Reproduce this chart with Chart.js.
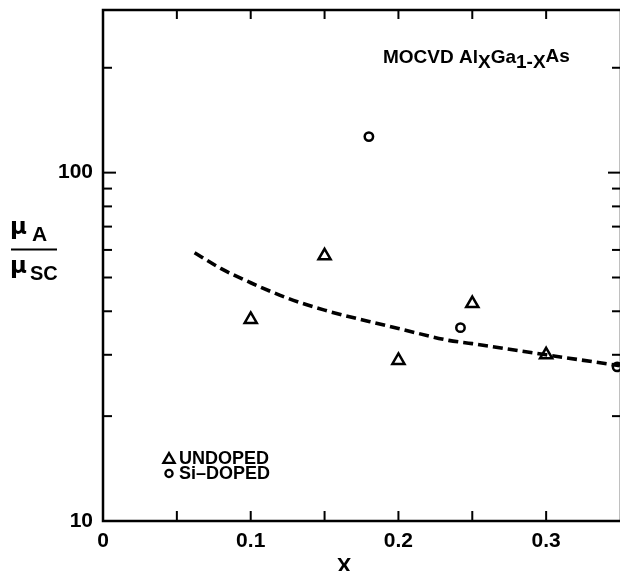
<!DOCTYPE html>
<html>
<head>
<meta charset="utf-8">
<script src="https://cdn.jsdelivr.net/npm/chart.js@4.4.1/dist/chart.umd.min.js"></script>
<style>
  html, body { margin: 0; padding: 0; background: #fff; }
  #wrap { width: 620px; height: 571px; }
</style>
</head>
<body>
<div id="wrap"><canvas id="mobilityChart" width="620" height="571"></canvas></div>
<script>
// Mobility ratio muA/muSC against Al fraction x, MOCVD AlxGa1-xAs
const undopedX = [0.10, 0.15, 0.20, 0.25, 0.30];
const undopedRatio = [37.9, 57.7, 28.9, 42.1, 30.0];
const siDopedX = [0.18, 0.242, 0.348];
const siDopedRatio = [126.9, 35.9, 27.7];
const fitX = [0.062, 0.08, 0.10, 0.125, 0.15, 0.18, 0.20, 0.234, 0.25, 0.30, 0.35];
const fitRatio = [58.9, 53.0, 48.3, 43.6, 40.3, 37.4, 35.7, 33.0, 32.3, 30.0, 27.9];
const xTickLabels = [0, 0.1, 0.2, 0.3];
const xTickMarks = [0.05, 0.1, 0.15, 0.2, 0.25, 0.3];
const yTickLabels = [10, 100];
const yTickMarks = [20, 30, 40, 50, 60, 70, 80, 90, 100, 200];

const FONT = "'Liberation Sans', Arial, sans-serif";

const toPoints = (xs, ys) => xs.map((x, i) => ({ x: x, y: ys[i] }));

function line(ctx, x1, y1, x2, y2) {
    ctx.beginPath();
    ctx.moveTo(x1, y1);
    ctx.lineTo(x2, y2);
    ctx.stroke();
}

// keep the label half-widths from shrinking the plot area
function noEdgePadding(scale) {
    scale.paddingTop = 0;
    scale.paddingBottom = 0;
    scale.paddingLeft = 0;
    scale.paddingRight = 0;
}

// Frame with inward ticks on all four sides
const frameTicks = {
    id: 'frameTicks',
    afterDraw(chart) {
        const { ctx, chartArea: a, scales: { x, y } } = chart;
        ctx.save();
        ctx.strokeStyle = '#000';
        ctx.lineCap = 'butt';
        ctx.lineWidth = 2.5;
        ctx.strokeRect(a.left, a.top, a.right - a.left + 1, a.bottom - a.top);

        ctx.lineWidth = 2;
        xTickMarks.forEach((v) => {
            const px = x.getPixelForValue(v);
            line(ctx, px, a.bottom, px, a.bottom - 10);
            line(ctx, px, a.top, px, a.top + 9);
        });
        yTickMarks.forEach((v) => {
            const py = y.getPixelForValue(v);
            const len = v === 100 ? 13 : 9;
            line(ctx, a.left, py, a.left + len, py);
            line(ctx, a.right + 1, py, a.right + 1 - len, py);
        });
        ctx.restore();
    }
};

// Axis titles, composition label and the key
const annotations = {
    id: 'annotations',
    afterDraw(chart) {
        const { ctx } = chart;
        ctx.save();
        ctx.fillStyle = '#000';
        ctx.strokeStyle = '#000';
        ctx.textBaseline = 'alphabetic';
        ctx.textAlign = 'left';

        // MOCVD AlxGa1-xAs
        const parts = [
            { t: 'MOCVD Al', dy: 0 },
            { t: 'X', dy: 5 },
            { t: 'Ga', dy: 0 },
            { t: '1-', dy: 5 },
            { t: 'X', dy: 5 },
            { t: 'As', dy: -1 }
        ];
        ctx.font = 'bold 19px ' + FONT;
        let tx = 383;
        parts.forEach((p) => {
            ctx.fillText(p.t, tx, 63 + p.dy);
            tx += ctx.measureText(p.t).width;
        });

        // muA / muSC
        ctx.font = "bold 23px 'DejaVu Sans', sans-serif";
        ctx.fillText('\u03bc', 10, 234);
        ctx.fillText('\u03bc', 10, 273);
        ctx.font = 'bold 21px ' + FONT;
        ctx.fillText('A', 32, 241);
        ctx.font = 'bold 20px ' + FONT;
        ctx.fillText('SC', 30, 280);
        ctx.lineWidth = 2;
        line(ctx, 11, 249.5, 57, 249.5);

        // x axis title
        ctx.font = 'bold 22px ' + FONT;
        ctx.textAlign = 'center';
        ctx.fillText('X', 344, 573);

        // key, using each dataset's own point style
        ctx.textAlign = 'left';
        ctx.textBaseline = 'middle';
        ctx.font = 'bold 18px ' + FONT;
        const keyRows = [
            { ds: 1, y: 458, r: 6.5 },
            { ds: 2, y: 473.5, r: 3.6 }
        ];
        keyRows.forEach((row) => {
            const ds = chart.data.datasets[row.ds];
            ctx.lineWidth = 2.3;
            ctx.fillStyle = 'rgba(0,0,0,0)';
            Chart.helpers.drawPoint(ctx, {
                pointStyle: ds.pointStyle,
                radius: row.r,
                rotation: 0,
                borderWidth: 2.3
            }, 169, row.y + (ds.pointStyle === 'triangle' ? 1.6 : 0));
            ctx.fillStyle = '#000';
            ctx.fillText(ds.label, 179, row.y + 1);
        });
        ctx.restore();
    }
};

new Chart(document.getElementById('mobilityChart'), {
    type: 'scatter',
    data: {
        datasets: [
            {
                label: 'trend',
                type: 'line',
                data: toPoints(fitX, fitRatio),
                borderColor: '#000',
                borderWidth: 3.6,
                borderDash: [10, 5],
                pointRadius: 0,
                cubicInterpolationMode: 'monotone',
                fill: false
            },
            {
                label: 'UNDOPED',
                data: toPoints(undopedX, undopedRatio),
                pointStyle: 'triangle',
                pointRadius: 7,
                borderWidth: 2.5,
                borderColor: '#000',
                backgroundColor: 'rgba(0,0,0,0)'
            },
            {
                label: 'Si\u2013DOPED',
                data: toPoints(siDopedX, siDopedRatio),
                pointStyle: 'circle',
                pointRadius: 4.2,
                borderWidth: 2.5,
                borderColor: '#000',
                backgroundColor: 'rgba(0,0,0,0)'
            }
        ]
    },
    options: {
        responsive: false,
        animation: false,
        events: [],
        layout: { autoPadding: false, padding: { top: 10, left: 0, right: 0, bottom: 0 } },
        plugins: {
            legend: { display: false },
            tooltip: { enabled: false }
        },
        scales: {
            x: {
                type: 'linear',
                min: 0,
                max: 0.35,
                grid: { display: false, drawTicks: false },
                border: { display: false },
                afterBuildTicks: (scale) => {
                    scale.ticks = xTickLabels.map((v) => ({ value: v }));
                },
                afterFit: (scale) => {
                    scale.height = 50;
                    noEdgePadding(scale);
                },
                ticks: {
                    color: '#000',
                    padding: 8,
                    maxRotation: 0,
                    autoSkip: false,
                    font: { family: FONT, size: 21, weight: 'bold' },
                    callback: (v) => String(v)
                }
            },
            y: {
                type: 'logarithmic',
                min: 10,
                max: 293,
                grid: { display: false, drawTicks: false },
                border: { display: false },
                afterBuildTicks: (scale) => {
                    scale.ticks = yTickLabels.map((v) => ({ value: v }));
                },
                afterFit: (scale) => {
                    scale.width = 103;
                    noEdgePadding(scale);
                },
                ticks: {
                    color: '#000',
                    padding: 10,
                    autoSkip: false,
                    font: { family: FONT, size: 21, weight: 'bold' },
                    callback: (v) => String(v)
                }
            }
        }
    },
    plugins: [frameTicks, annotations]
});
</script>
</body>
</html>
